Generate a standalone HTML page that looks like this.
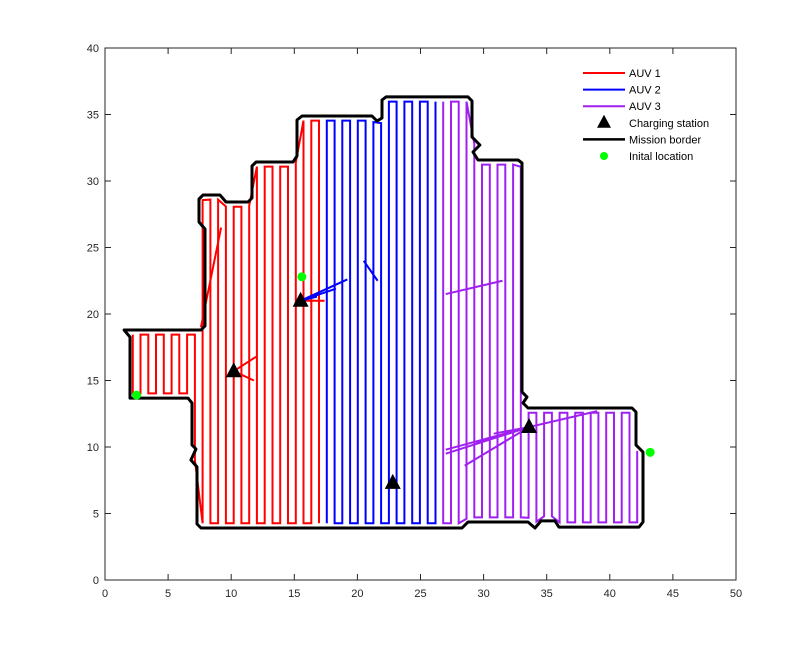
<!DOCTYPE html>
<html><head><meta charset="utf-8"><style>
html,body{margin:0;padding:0;background:#fff;}
svg{display:block;font-family:"Liberation Sans",sans-serif;}
</style></head><body>
<svg id="chart" width="811" height="652" viewBox="0 0 811 652">
<rect x="0" y="0" width="811" height="652" fill="#fff"/>
<g id="plot"></g>
<g id="axes"></g>
<g id="legend"></g>
</svg>
<script>
const borderX=[1.51,1.98,1.98,6.58,6.89,6.89,7.21,6.81,7.29,7.29,7.61,28.29,28.76,33.52,34.07,34.55,35.66,35.97,42.31,42.63,42.63,42.08,42.08,41.76,33.52,33.12,33.44,33.04,33.04,32.73,29.56,29.16,29.71,29.08,29.08,28.76,22.27,21.95,21.95,21.55,21.16,15.61,15.21,15.21,14.90,11.97,11.65,11.65,11.33,9.59,9.11,7.77,7.45,7.45,7.92,7.92,7.61];
const borderY=[18.80,18.27,13.68,13.68,13.31,10.15,9.85,9.02,8.50,4.21,3.91,3.91,4.36,4.36,3.91,4.44,4.44,3.98,3.98,4.36,9.62,10.15,12.63,12.93,12.93,13.31,13.76,14.14,31.35,31.58,31.58,32.18,32.71,33.31,36.02,36.32,36.32,36.09,34.74,34.51,34.89,34.89,34.59,31.88,31.43,31.43,31.13,28.72,28.42,28.42,28.95,28.95,28.65,26.92,26.39,19.10,18.80];
const stationX=[10.2,15.5,22.8,33.6];
const stationY=[15.7,21.0,7.3,11.5];
const initX=[2.5,15.6,43.2];
const initY=[13.9,22.8,9.6];
const auvNames=["AUV 1","AUV 2","AUV 3"];
const auvColors=["#ff0000","#0000ff","#a020f0"];
const auvSplit=[17.2,26.7];
const xTicks=[0,5,10,15,20,25,30,35,40,45,50];
const yTicks=[0,5,10,15,20,25,30,35,40];
// transit legs: [auv, x1,y1,x2,y2]
const transitAuv=[0,0,0,0,1,1,1,1,2,2,2,2,2,2,2];
const transitX1=[7.6,10.2,10.2,15.5,15.5,15.5,15.5,21.6,33.6,33.6,33.6,33.6,33.6,27.0,27.0];
const transitY1=[19.0,15.7,15.7,21.0,21.0,21.0,21.0,22.5,11.5,11.5,11.5,11.5,11.5,21.5,9.5];
const transitX2=[9.2,12.0,11.8,17.4,19.2,18.3,16.8,20.5,39.0,27.0,28.5,29.4,30.8,31.5,33.6];
const transitY2=[26.5,16.8,15.0,21.0,22.6,21.9,21.3,24.0,12.7,9.8,8.6,10.3,11.0,22.5,11.5];

const X0=105,X1=736,Y0=580,Y1=48;
const sx=v=>X0+(v-0)/(50-0)*(X1-X0);
const sy=v=>Y0-(v-0)/(40-0)*(Y0-Y1);
const NS="http://www.w3.org/2000/svg";
function mk(tag,attrs,parent){const e=document.createElementNS(NS,tag);for(const k in attrs)e.setAttribute(k,attrs[k]);parent.appendChild(e);return e;}
const plot=document.getElementById('plot'),axes=document.getElementById('axes'),legend=document.getElementById('legend');

// column extents from border polygon
function extent(x){let ys=[];const n=borderX.length;for(let i=0;i<n;i++){const xa=borderX[i],ya=borderY[i],xb=borderX[(i+1)%n],yb=borderY[(i+1)%n];if((xa<=x&&xb>x)||(xb<=x&&xa>x)){ys.push(ya+(x-xa)/(xb-xa)*(yb-ya));}}if(ys.length<2)return null;return [Math.min(...ys)+0.35,Math.max(...ys)-0.35];}
const paths=[[],[],[]];
let dir=0;
for(let x=2.2;x<42.35;x+=0.615){const e=extent(x);if(!e)continue;const a=x<auvSplit[0]?0:(x<auvSplit[1]?1:2);const p=dir%2===0?[[x,e[1]],[x,e[0]]]:[[x,e[0]],[x,e[1]]];paths[a].push(p);dir++;}
paths.forEach((cols,a)=>{let d="";cols.forEach((c,i)=>{d+=(i===0?"M":"L")+sx(c[0][0]).toFixed(1)+","+sy(c[0][1]).toFixed(1)+"L"+sx(c[1][0]).toFixed(1)+","+sy(c[1][1]).toFixed(1);});
const el=mk('path',{d:d,fill:"none",stroke:auvColors[a],"stroke-width":2,"stroke-linejoin":"miter"},plot);

});
transitAuv.forEach((a,i)=>{const el=mk('line',{x1:sx(transitX1[i]),y1:sy(transitY1[i]),x2:sx(transitX2[i]),y2:sy(transitY2[i]),stroke:auvColors[a],"stroke-width":2},plot);

});
// border
let bd=borderX.map((x,i)=>(i?"L":"M")+sx(x).toFixed(1)+","+sy(borderY[i]).toFixed(1)).join("")+"Z";
const be=mk('path',{d:bd,fill:"none",stroke:"#000","stroke-width":3,"stroke-linejoin":"round"},plot);


stationX.forEach((x,i)=>{const cx=sx(x),cy=sy(stationY[i]);const el=mk('polygon',{points:`${cx},${cy-9} ${cx-8},${cy+6} ${cx+8},${cy+6}`,fill:"#000"},plot);

});
initX.forEach((x,i)=>{const el=mk('circle',{cx:sx(x),cy:sy(initY[i]),r:4.5,fill:"#00ff00"},plot);

});
// axes box
const box=mk('rect',{x:X0,y:Y1,width:X1-X0,height:Y0-Y1,fill:"none",stroke:"#262626","stroke-width":1},axes);


xTicks.forEach(t=>{const x=sx(t);mk('line',{x1:x,y1:Y0,x2:x,y2:Y0-6,stroke:"#262626"},axes);mk('line',{x1:x,y1:Y1,x2:x,y2:Y1+6,stroke:"#262626"},axes);
const tx=mk('text',{x:x,y:Y0+17,"font-size":11,"text-anchor":"middle",fill:"#262626"},axes);tx.textContent=t;

});
yTicks.forEach(t=>{const y=sy(t);mk('line',{x1:X0,y1:y,x2:X0+6,y2:y,stroke:"#262626"},axes);mk('line',{x1:X1,y1:y,x2:X1-6,y2:y,stroke:"#262626"},axes);
const tx=mk('text',{x:X0-6,y:y+4,"font-size":11,"text-anchor":"end",fill:"#262626"},axes);tx.textContent=t;

});
// legend
const legLabels=["AUV 1","AUV 2","AUV 3","Charging station","Mission border","Inital location"];
legLabels.forEach((lab,i)=>{const y=73+i*16.6;let m;
if(i<3)m=mk('line',{x1:583,y1:y,x2:625,y2:y,stroke:auvColors[i],"stroke-width":2},legend);
else if(i===3)m=mk('polygon',{points:`604,${y-8} 597,${y+5} 611,${y+5}`,fill:"#000"},legend);
else if(i===4)m=mk('line',{x1:583,y1:y,x2:625,y2:y,stroke:"#000","stroke-width":2.5},legend);
else m=mk('circle',{cx:604,cy:y,r:4,fill:"#00ff00"},legend);


const tx=mk('text',{x:629,y:y+4,"font-size":11,fill:"#000"},legend);tx.textContent=lab;

});
</script>
</body></html>
